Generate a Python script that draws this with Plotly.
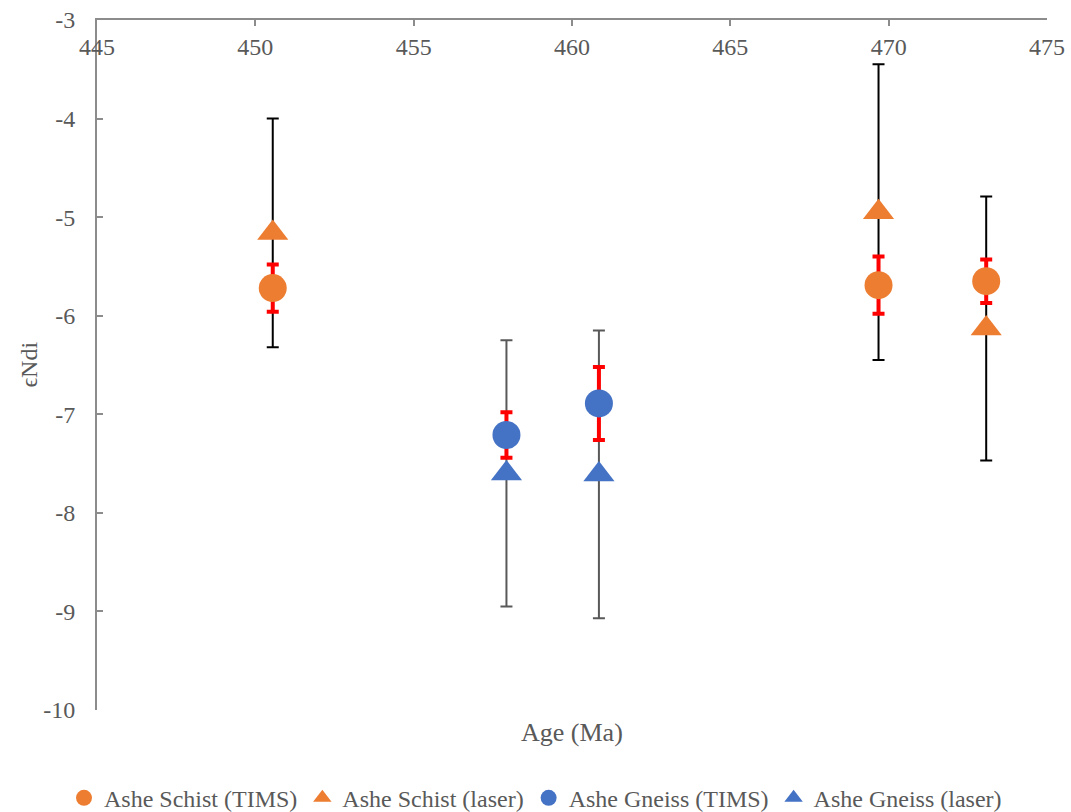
import plotly.graph_objects as go

# Ages (Ma) and initial epsilon-Nd values with 2-sigma uncertainties
schist_age = [450.55, 469.68, 473.08]
schist_tims = [-5.72, -5.69, -5.65]
schist_tims_err = [0.24, 0.29, 0.22]
schist_laser = [-5.16, -4.95, -6.13]
schist_laser_err = [1.16, 1.50, 1.34]

gneiss_age = [457.93, 460.85]
gneiss_tims = [-7.21, -6.89]
gneiss_tims_err = [0.23, 0.37]
gneiss_laser = [-7.60, -7.61]
gneiss_laser_err = [1.35, 1.46]

x_ticks = [445, 450, 455, 460, 465, 470, 475]
y_ticks = [-10, -9, -8, -7, -6, -5, -4, -3]

ORANGE = "#ED7D31"
BLUE = "#4472C4"
FONT = "Liberation Serif"
TXT = "#595959"

fig = go.Figure()

# error bars first so every marker sits on top of them
def err_trace(x, y, e, color, thick):
    return go.Scatter(
        x=x, y=y, mode="markers", showlegend=False, hoverinfo="skip",
        marker=dict(size=1, color="rgba(0,0,0,0)"),
        error_y=dict(type="data", array=e, visible=True, color=color,
                     thickness=thick, width=6),
    )

fig.add_trace(err_trace(schist_age, schist_laser, schist_laser_err, "#000000", 2))
fig.add_trace(err_trace(gneiss_age, gneiss_laser, gneiss_laser_err, "#595959", 2))
fig.add_trace(err_trace(schist_age, schist_tims, schist_tims_err, "#FF0000", 4))
fig.add_trace(err_trace(gneiss_age, gneiss_tims, gneiss_tims_err, "#FF0000", 4))

def pts(x, y, name, color, symbol, size):
    return go.Scatter(x=x, y=y, mode="markers", name=name,
                      marker=dict(color=color, symbol=symbol, size=size, line=dict(width=0)))

fig.add_trace(pts(schist_age, schist_tims, "Ashe Schist (TIMS)", ORANGE, "circle", 28))
fig.add_trace(pts(schist_age, schist_laser, "Ashe Schist (laser)", ORANGE, "triangle-up", 27))
fig.add_trace(pts(gneiss_age, gneiss_tims, "Ashe Gneiss (TIMS)", BLUE, "circle", 28))
fig.add_trace(pts(gneiss_age, gneiss_laser, "Ashe Gneiss (laser)", BLUE, "triangle-up", 27))

axis_line = "#8c8c8c"

fig.update_layout(
    width=1071, height=812,
    margin=dict(l=97, r=24, t=20, b=102),
    paper_bgcolor="white", plot_bgcolor="white",
    font=dict(family=FONT, color=TXT, size=24),
    showlegend=True,
    legend=dict(orientation="h", xref="container", yref="container",
                x=0.5, xanchor="center", y=0.017, yanchor="middle",
                font=dict(family=FONT, size=24, color=TXT),
                itemwidth=30, tracegroupgap=0),
    xaxis=dict(range=[445, 475], side="top", tickvals=x_ticks,
               ticktext=[str(v) for v in x_ticks],
               ticks="inside", ticklen=6, tickwidth=1.5, tickcolor=axis_line,
               ticklabelposition="inside", ticklabelstandoff=14,
               ticklabeloverflow="allow", automargin=False,
               showline=True, linecolor=axis_line, linewidth=2,
               showgrid=False, zeroline=False,
               tickfont=dict(family=FONT, size=24, color=TXT)),
    yaxis=dict(range=[-10, -3], tickvals=y_ticks,
               ticktext=[str(v) for v in y_ticks],
               ticks="inside", ticklen=6, tickwidth=1.5, tickcolor=axis_line,
               ticklabelstandoff=15, ticklabeloverflow="allow", automargin=False,
               showline=True, linecolor=axis_line, linewidth=2,
               showgrid=False, zeroline=False,
               tickfont=dict(family=FONT, size=24, color=TXT)),
    annotations=[
        dict(text="Age (Ma)", xref="paper", yref="paper", x=0.5, y=-0.032,
             xanchor="center", yanchor="middle", showarrow=False,
             font=dict(family=FONT, size=26, color=TXT)),
        dict(text="ϵNdi", xref="paper", yref="paper", x=-0.072, y=0.5,
             xanchor="center", yanchor="middle", textangle=-90, showarrow=False,
             font=dict(family=FONT, size=24, color=TXT)),
    ],
)

fig.write_html("out.html")
